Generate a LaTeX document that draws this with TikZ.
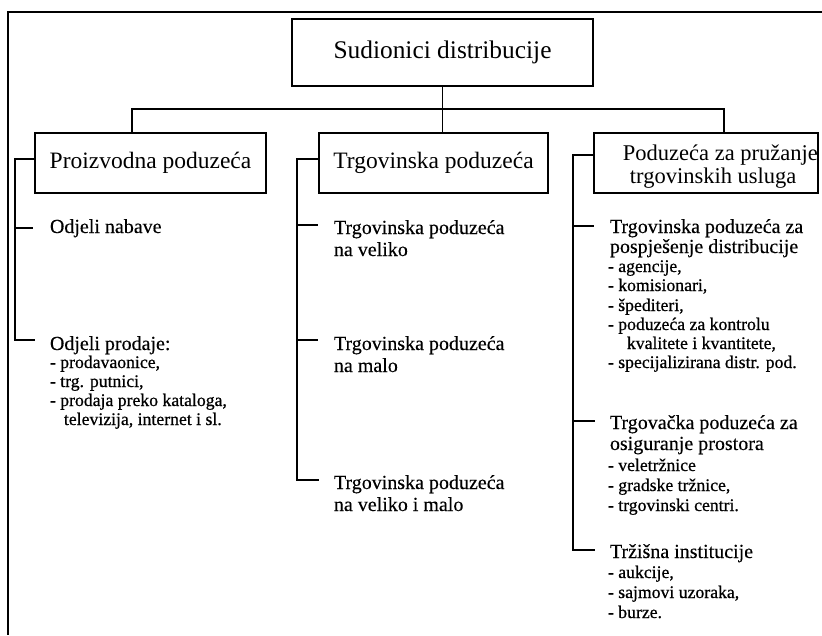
\documentclass[tikz,border=0pt]{standalone}
\usepackage{fontspec}
\setmainfont{Liberation Serif}
\newfontfamily\ttlfont[FakeBold=0.3]{Liberation Serif}
\newfontfamily\itmfont[FakeBold=0.7]{Liberation Serif}
\begin{document}
\begin{tikzpicture}[x=1pt,y=-1pt,line width=1.9pt,
  bx/.style={draw,line width=1.8pt,inner sep=0pt},
  topfont/.style={font=\fontsize{25.4}{28}\selectfont},
  boxfont/.style={font=\fontsize{23.5}{26}\selectfont},
  rboxline/.style={anchor=base west,inner sep=0pt,font=\fontsize{22.5}{24}\selectfont},
  ttl/.style={anchor=base west,inner sep=0pt,font=\ttlfont\fontsize{20}{22}\selectfont},
  itm/.style={anchor=base west,inner sep=0pt,font=\itmfont\fontsize{17.7}{20}\selectfont}]
\useasboundingbox (0,0) rectangle (822,635);
% frame
\draw[line width=2.2pt] (822,12) -- (8,12) -- (8,635);
% boxes
\node[bx,topfont,minimum width=301pt,minimum height=67pt] (top) at (442.5,52.5) {Sudionici distribucije};
\node[bx,boxfont,minimum width=231pt,minimum height=60pt] (lbox) at (150.5,163) {Proizvodna poduzeća};
\node[bx,boxfont,minimum width=229pt,minimum height=60pt] (mbox) at (433.5,163) {Trgovinska poduzeća};
\node[bx,minimum width=224pt,minimum height=60pt] (rbox) at (706,163) {};
\node[rboxline] (rb1) at (622,160) {Poduzeća za pružanje};
\node[rboxline] (rb2) at (629,183) {trgovinskih usluga};
% top connectors
\coordinate (hl) at (132,109);
\coordinate (hr) at (724,109);
\draw (top.south) -- (top.south |- mbox.north);
\draw (lbox.north -| hl) -- (hl) -- (hr) -- (hr |- rbox.north);
% left tree
\coordinate (lA) at (15,159);
\coordinate (lB) at (15,340);
\coordinate (lnab) at (33,228);
\coordinate (lpro) at (35,340);
\draw (lbox.west |- lA) -- (lA) -- (lB) -- (lpro);
\draw (lA |- lnab) -- (lnab);
% middle tree
\coordinate (mA) at (297,159);
\coordinate (mB) at (297,480);
\coordinate (m1e) at (318,225);
\coordinate (m2e) at (318,340);
\coordinate (m3e) at (319,480);
\draw (mbox.west |- mA) -- (mA) -- (mB) -- (m3e);
\draw (mA |- m1e) -- (m1e);
\draw (mA |- m2e) -- (m2e);
% right tree
\coordinate (rA) at (573,155);
\coordinate (rB) at (573,550);
\coordinate (r1e) at (594,226);
\coordinate (r2e) at (595,421);
\coordinate (r3e) at (595,550);
\draw (rbox.west |- rA) -- (rA) -- (rB) -- (r3e);
\draw (rA |- r1e) -- (r1e);
\draw (rA |- r2e) -- (r2e);
% left texts
\node[ttl] (ln) at (49,233) {Odjeli nabave};
\node[ttl] (lp) at (49,350) {Odjeli prodaje:};
\node[itm] (lp1) at (49,368) {- prodavaonice,};
\node[itm] (lp2) at (49,387) {- trg. putnici,};
\node[itm] (lp3) at (49,406) {- prodaja preko kataloga,};
\node[itm] (lp4) at (63,425) {televizija, internet i sl.};
% middle texts
\node[ttl] (m1a) at (333,234) {Trgovinska poduzeća};
\node[ttl] (m1b) at (333,256) {na veliko};
\node[ttl] (m2a) at (333,350) {Trgovinska poduzeća};
\node[ttl] (m2b) at (333,372) {na malo};
\node[ttl] (m3a) at (333,489) {Trgovinska poduzeća};
\node[ttl] (m3b) at (333,511) {na veliko i malo};
% right texts
\node[ttl] (r1a) at (609,233) {Trgovinska poduzeća za};
\node[ttl] (r1b) at (609,253) {pospješenje distribucije};
\node[itm] (r11) at (607,272) {- agencije,};
\node[itm] (r12) at (607,291) {- komisionari,};
\node[itm] (r13) at (607,311) {- špediteri,};
\node[itm] (r14) at (607,330) {- poduzeća za kontrolu};
\node[itm] (r15) at (626,349) {kvalitete i kvantitete,};
\node[itm] (r16) at (607,368) {- specijalizirana distr. pod.};
\node[ttl] (r2a) at (609,429) {Trgovačka poduzeća za};
\node[ttl] (r2b) at (609,450) {osiguranje prostora};
\node[itm] (r21) at (607,471) {- veletržnice};
\node[itm] (r22) at (607,491) {- gradske tržnice,};
\node[itm] (r23) at (607,511) {- trgovinski centri.};
\node[ttl] (r3a) at (609,558) {Tržišna institucije};
\node[itm] (r31) at (607,578) {- aukcije,};
\node[itm] (r32) at (607,598) {- sajmovi uzoraka,};
\node[itm] (r33) at (607,618) {- burze.};
\end{tikzpicture}
\end{document}
